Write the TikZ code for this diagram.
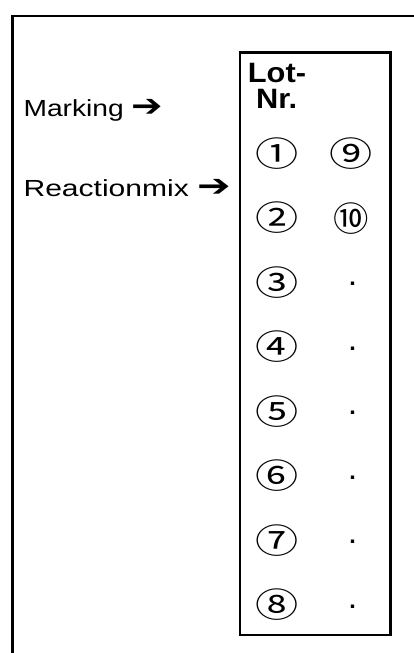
\documentclass[tikz,border=0pt]{standalone}
\usepackage{fontspec}
\setmainfont{Liberation Sans}
\newfontfamily\circfont{Noto Sans CJK JP}
\newfontfamily\arrfont{DejaVu Sans}
\begin{document}
\begin{tikzpicture}[x=1pt,y=-1pt,
  frame/.style={line width=2.4pt},
  lbl/.style={anchor=base west,inner sep=0pt,font=\fontsize{23.3}{28}\selectfont},
  head/.style={anchor=base west,inner sep=0pt,xscale=1.1,font=\fontsize{28}{30}\selectfont\bfseries},
  circ/.style={inner sep=0pt,xscale=1.27,font=\circfont\fontsize{34}{40}\selectfont},
  dotn/.style={inner sep=0pt,font=\fontsize{23.3}{28}\selectfont\bfseries}]
\useasboundingbox (0,0) rectangle (414,653);
\coordinate (fb) at (12.5,653);
\coordinate (fc) at (12.5,15.8);
\coordinate (fr) at (414,15.8);
\draw[frame] (fb) -- (fc) -- (fr);
\node[draw,frame,minimum width=150.6pt,minimum height=582.7pt,inner sep=0pt,anchor=north west] (box) at (238.7,51.3) {};
\node[head] (lot) at (247.7,82.3) {Lot-};
\node[head] (nr) at (256,108.3) {Nr.};
\node[lbl,xscale=1.21] (mark) at (23.3,116.7) {Marking {\arrfont\bfseries\fontsize{31}{31}\selectfont ➔}};
\node[lbl,xscale=1.29] (react) at (23.3,196.7) {Reactionmix {\arrfont\bfseries\fontsize{31}{31}\selectfont ➔}};
\foreach \i/\g/\y in {1/①/153.5,2/②/218,3/③/282.5,4/④/347,5/⑤/411.5,6/⑥/476,7/⑦/540.5,8/⑧/605}
  \node[circ] (c\i) at (277,\y) {\g};
\node[circ] (c9) at (351.5,153.5) {⑨};
\node[circ,xscale=0.82] (c10) at (351.5,219) {⑩};
\foreach \i/\y in {3/284,4/348.5,5/413,6/477.5,7/542,8/606.5}
  \node[dotn] (d\i) at (352.5,\y) {.};
\end{tikzpicture}
\end{document}
